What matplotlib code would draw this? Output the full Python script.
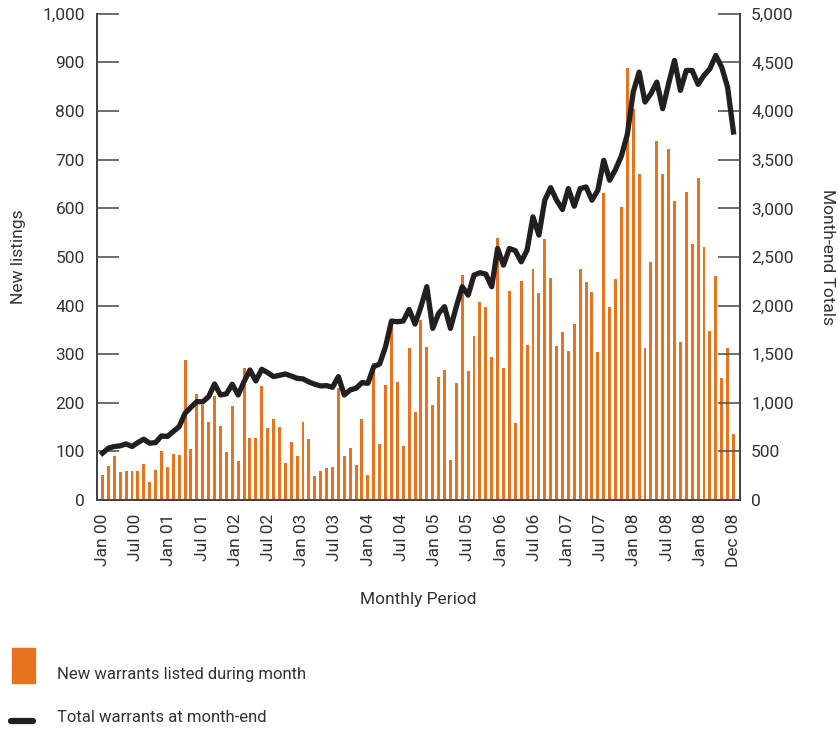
import numpy as np
import matplotlib.pyplot as plt
from matplotlib.patches import Rectangle
from matplotlib.lines import Line2D
from matplotlib.ticker import FuncFormatter

plt.rcParams['font.family'] = ['Roboto', 'DejaVu Sans']

# new warrants listed each month, Jan 00 .. Dec 08
new_listings = [
    52, 70, 91, 58, 60, 60, 60, 75, 38, 62, 101, 68,
    95, 93, 288, 105, 218, 196, 161, 215, 153, 99, 194, 81,
    272, 128, 128, 235, 149, 167, 151, 77, 120, 91, 161, 126,
    50, 60, 66, 68, 231, 91, 107, 73, 167, 52, 282, 116,
    237, 364, 243, 112, 313, 181, 370, 315, 196, 253, 268, 83,
    241, 463, 266, 337, 407, 397, 294, 539, 272, 430, 159, 451,
    319, 475, 426, 537, 457, 317, 346, 307, 362, 475, 448, 428,
    305, 631, 397, 454, 602, 888, 804, 670, 313, 489, 738, 670,
    723, 615, 325, 633, 526, 662, 520, 348, 461, 251, 313, 136,
]

# total warrants at month-end
month_end_totals = [
    483, 534, 551, 558, 578, 551, 592, 626, 585, 592, 660, 654,
    705, 756, 893, 955, 1013, 1010, 1064, 1194, 1081, 1092, 1191, 1081,
    1218, 1338, 1225, 1345, 1311, 1270, 1283, 1297, 1276, 1252, 1246, 1215,
    1191, 1174, 1177, 1160, 1270, 1081, 1133, 1150, 1208, 1201, 1372, 1400,
    1578, 1841, 1834, 1841, 1960, 1810, 1989, 2194, 1766, 1920, 1989, 1766,
    1989, 2194, 2108, 2314, 2338, 2324, 2194, 2587, 2416, 2587, 2565, 2450,
    2571, 2913, 2725, 3084, 3213, 3084, 2988, 3203, 3022, 3203, 3220, 3084,
    3186, 3494, 3289, 3400, 3540, 3760, 4196, 4401, 4093, 4179, 4298, 4025,
    4282, 4521, 4213, 4418, 4418, 4275, 4367, 4435, 4572, 4452, 4247, 3785,
]

tick_labels = ['Jan 00', 'Jul 00', 'Jan 01', 'Jul 01', 'Jan 02', 'Jul 02',
               'Jan 03', 'Jul 03', 'Jan 04', 'Jul 04', 'Jan 05', 'Jul 05',
               'Jan 06', 'Jul 06', 'Jan 07', 'Jul 07', 'Jan 08', 'Jul 08',
               'Jan 08', 'Dec 08']

orange = '#E8731E'
dark = '#231F20'
grey = '#555555'
txt = '#333333'
fs = 12.5

fig = plt.figure(figsize=(8.38, 7.29), dpi=100)
ax = fig.add_axes([0.116, 0.314, 0.767, 0.667])
ax2 = ax.twinx()

x = np.arange(len(new_listings))
ax.bar(x, new_listings, width=0.5, color=orange, zorder=2)
ax2.plot(x, month_end_totals, color=dark, lw=3.8, zorder=3)

ax.set_xlim(-0.9, 108.1)
ax.set_ylim(0, 1000)
ax2.set_ylim(0, 5000)
ax.set_yticks(np.arange(0, 1001, 100))
ax2.set_yticks(np.arange(0, 5001, 500))
fmt = FuncFormatter(lambda v, p: f'{int(v):,}')
ax.yaxis.set_major_formatter(fmt)
ax2.yaxis.set_major_formatter(fmt)

ax.set_xticks(np.linspace(0, len(new_listings) - 1, len(tick_labels)))
ax.set_xticklabels(tick_labels, rotation=90, fontsize=fs, color=txt)
ax.tick_params(axis='x', length=0, pad=10)
ax.tick_params(axis='y', direction='in', length=16, width=1.2, color=grey,
               labelsize=fs, labelcolor=txt, pad=9)
ax2.tick_params(axis='y', direction='in', length=16, width=1.2, color=grey,
                labelsize=fs, labelcolor=txt, pad=8)

for a in (ax, ax2):
    a.spines['top'].set_visible(False)
    for s in ('left', 'right', 'bottom'):
        a.spines[s].set_color('#444444')
        a.spines[s].set_linewidth(1.4)

ax.set_ylabel('New listings', fontsize=fs, color=txt, labelpad=12)
ax2.set_ylabel('Month-end Totals', fontsize=fs, color=txt,
               rotation=-90, labelpad=30)
ax.set_xlabel('Monthly Period', fontsize=fs, color=txt, labelpad=18)

# legend drawn beneath the chart
fig.patches.append(Rectangle((12 / 838, 1 - 683 / 729), 23 / 838, 35 / 729,
                             transform=fig.transFigure, color=orange))
fig.lines.append(Line2D([11 / 838, 33 / 838], [1 - 721 / 729, 1 - 721 / 729],
                        transform=fig.transFigure, color=dark, lw=4.5,
                        solid_capstyle='round'))
fig.text(57 / 838, 1 - 674 / 729, 'New warrants listed during month',
         fontsize=12, color=txt, va='center')
fig.text(57 / 838, 1 - 718 / 729, 'Total warrants at month-end',
         fontsize=12, color=txt, va='center')

fig.savefig('out.png', dpi=100)
